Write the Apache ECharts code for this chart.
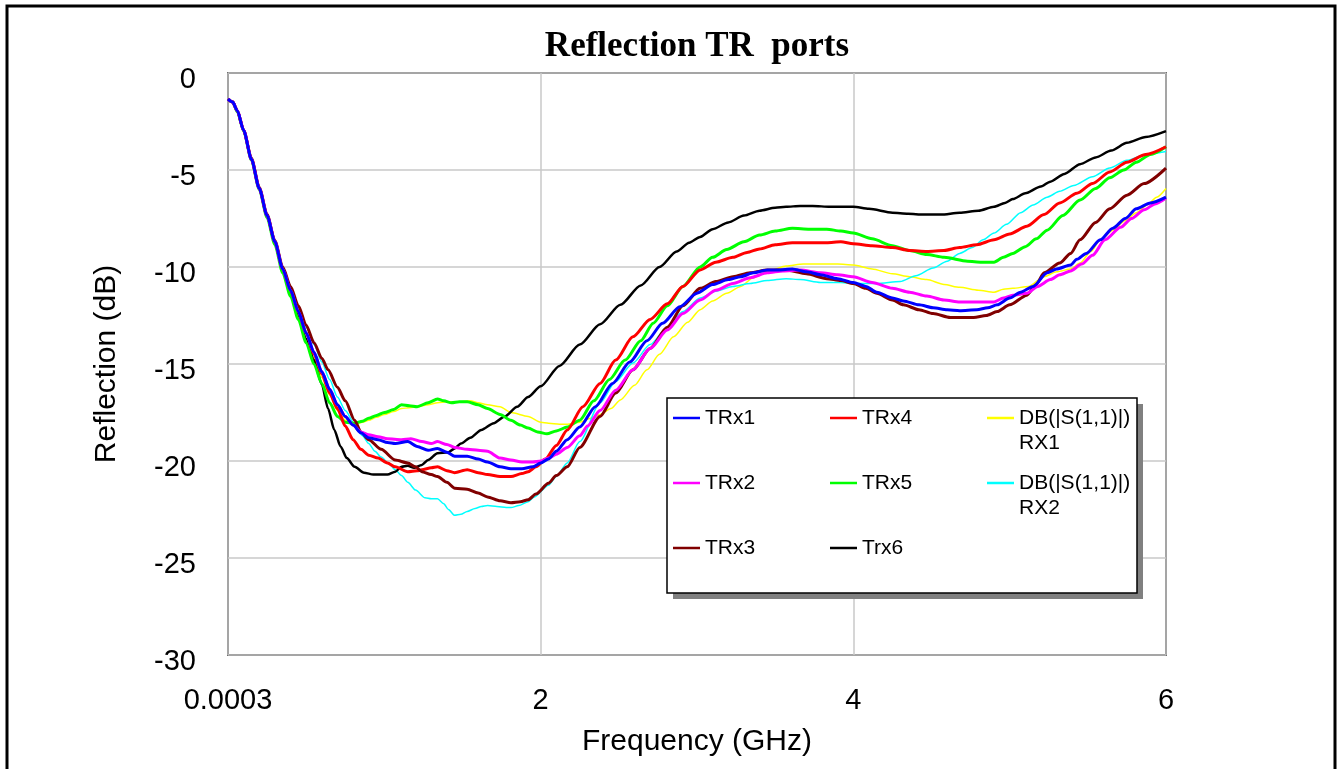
<!DOCTYPE html>
<html>
<head>
<meta charset="utf-8">
<title>Reflection TR ports</title>
<script src="https://cdn.jsdelivr.net/npm/echarts@6/dist/echarts.min.js"></script>
<style>
  html, body { margin: 0; padding: 0; background: #fff; }
  #chart { width: 1339px; height: 769px; }
</style>
</head>
<body>
<div id="chart"></div>
<script>
// frequency (GHz) / reflection (dB) pairs
var trx1 = [[0,-1.35],[0.03,-1.5],[0.06,-1.95],[0.1,-2.95],[0.15,-4.45],[0.2,-5.95],[0.25,-7.35],[0.3,-8.7],[0.35,-10.1],
  [0.4,-11.2],[0.45,-12.3],[0.5,-13.4],[0.55,-14.4],[0.6,-15.4],[0.65,-16.3],[0.7,-17.1],[0.75,-17.7],[0.8,-18.15],[0.85,-18.55],
  [0.9,-18.8],[0.96,-18.9],[1.02,-19.05],[1.07,-19.1],[1.15,-19.0],[1.21,-19.25],[1.28,-19.45],[1.34,-19.35],[1.4,-19.55],
  [1.45,-19.75],[1.53,-19.75],[1.6,-19.9],[1.66,-20.05],[1.74,-20.3],[1.81,-20.4],[1.88,-20.4],[1.95,-20.3],[2.0,-20.1],
  [2.05,-19.9],[2.1,-19.5],[2.17,-18.9],[2.25,-18.25],[2.35,-17.2],[2.46,-16.0],[2.57,-14.9],[2.68,-13.8],[2.78,-12.9],
  [2.89,-12.05],[3.0,-11.35],[3.1,-10.9],[3.2,-10.65],[3.28,-10.5],[3.36,-10.3],[3.45,-10.15],[3.52,-10.15],[3.61,-10.1],
  [3.7,-10.25],[3.79,-10.4],[3.9,-10.6],[4.0,-10.8],[4.08,-11.0],[4.15,-11.3],[4.25,-11.6],[4.32,-11.75],[4.42,-11.95],
  [4.51,-12.1],[4.6,-12.2],[4.68,-12.25],[4.79,-12.2],[4.86,-12.1],[4.92,-11.95],[5.0,-11.6],[5.07,-11.3],[5.15,-11.0],
  [5.24,-10.3],[5.3,-10.1],[5.39,-9.9],[5.43,-9.6],[5.49,-9.3],[5.58,-8.6],[5.66,-8.0],[5.74,-7.5],[5.81,-7.0],[5.9,-6.7],[6.0,-6.4]];

var trx2 = [[0,-1.35],[0.03,-1.5],[0.06,-1.95],[0.1,-2.95],[0.15,-4.45],[0.2,-5.95],[0.25,-7.35],[0.3,-8.7],[0.35,-10.1],
  [0.4,-11.2],[0.45,-12.3],[0.5,-13.4],[0.55,-14.4],[0.6,-15.4],[0.65,-16.3],[0.7,-17.1],[0.75,-17.7],[0.8,-18.15],[0.85,-18.5],
  [0.9,-18.65],[0.96,-18.75],[1.02,-18.85],[1.11,-18.9],[1.17,-18.85],[1.24,-19.0],[1.3,-19.1],[1.34,-19.0],[1.4,-19.15],
  [1.45,-19.3],[1.53,-19.4],[1.6,-19.45],[1.66,-19.5],[1.74,-19.85],[1.81,-19.95],[1.88,-20.05],[1.95,-20.05],[2.0,-20.0],
  [2.05,-19.85],[2.1,-19.65],[2.17,-19.3],[2.25,-18.7],[2.3,-18.2],[2.38,-17.4],[2.48,-16.35],[2.59,-15.3],[2.7,-14.2],
  [2.81,-13.25],[2.91,-12.4],[3.02,-11.7],[3.12,-11.2],[3.23,-10.85],[3.34,-10.55],[3.45,-10.3],[3.55,-10.2],[3.66,-10.15],
  [3.79,-10.3],[3.9,-10.4],[4.0,-10.5],[4.12,-10.8],[4.25,-11.1],[4.36,-11.3],[4.47,-11.5],[4.58,-11.7],[4.68,-11.8],
  [4.8,-11.8],[4.9,-11.8],[4.96,-11.6],[5.02,-11.45],[5.11,-11.35],[5.18,-11.0],[5.26,-10.65],[5.32,-10.4],[5.39,-10.2],
  [5.46,-9.85],[5.53,-9.4],[5.61,-8.6],[5.71,-7.95],[5.78,-7.5],[5.86,-7.05],[5.93,-6.75],[6.0,-6.45]];

var trx3 = [[0,-1.35],[0.03,-1.5],[0.06,-1.95],[0.1,-2.95],[0.15,-4.4],[0.2,-5.9],[0.25,-7.3],[0.3,-8.65],[0.35,-10.0],
  [0.4,-11.0],[0.45,-12.0],[0.5,-13.0],[0.55,-13.9],[0.6,-14.7],[0.64,-15.3],[0.7,-16.2],[0.75,-16.9],[0.81,-17.9],[0.85,-18.5],
  [0.9,-18.9],[0.98,-19.4],[1.07,-19.95],[1.15,-20.1],[1.2,-20.3],[1.24,-20.55],[1.3,-20.7],[1.34,-20.8],[1.4,-21.1],
  [1.45,-21.4],[1.53,-21.45],[1.6,-21.65],[1.66,-21.85],[1.74,-22.05],[1.81,-22.15],[1.87,-22.1],[1.92,-22.0],[1.97,-21.7],
  [2.05,-21.15],[2.1,-20.75],[2.17,-20.3],[2.25,-19.3],[2.38,-17.7],[2.48,-16.5],[2.59,-15.3],[2.7,-14.2],[2.81,-13.1],
  [2.91,-12.0],[3.02,-11.1],[3.12,-10.75],[3.23,-10.5],[3.34,-10.3],[3.45,-10.15],[3.57,-10.15],[3.7,-10.35],[3.83,-10.6],
  [3.92,-10.7],[4.0,-10.85],[4.08,-11.1],[4.15,-11.35],[4.25,-11.7],[4.32,-11.95],[4.42,-12.2],[4.51,-12.4],[4.62,-12.6],
  [4.77,-12.6],[4.85,-12.5],[4.92,-12.3],[5.0,-11.95],[5.11,-11.45],[5.17,-10.9],[5.22,-10.3],[5.32,-9.8],[5.39,-9.3],
  [5.45,-8.6],[5.55,-7.7],[5.64,-7.0],[5.75,-6.3],[5.86,-5.7],[6.0,-4.9]];

var trx4 = [[0,-1.35],[0.03,-1.5],[0.06,-1.95],[0.1,-2.95],[0.15,-4.45],[0.2,-5.95],[0.25,-7.35],[0.3,-8.7],[0.35,-10.1],
  [0.4,-11.2],[0.45,-12.3],[0.5,-13.4],[0.55,-14.5],[0.6,-15.5],[0.65,-16.5],[0.7,-17.3],[0.75,-18.2],[0.8,-18.9],[0.85,-19.4],
  [0.9,-19.7],[0.96,-19.85],[1.02,-20.1],[1.07,-20.3],[1.15,-20.55],[1.21,-20.5],[1.24,-20.45],[1.3,-20.35],[1.34,-20.3],
  [1.4,-20.5],[1.45,-20.6],[1.53,-20.45],[1.6,-20.6],[1.66,-20.7],[1.74,-20.8],[1.81,-20.8],[1.88,-20.65],[1.92,-20.55],
  [1.97,-20.3],[2.03,-19.9],[2.1,-19.2],[2.17,-18.4],[2.27,-17.2],[2.38,-16.0],[2.48,-14.8],[2.59,-13.6],[2.7,-12.7],
  [2.81,-11.9],[2.91,-11.0],[3.02,-10.15],[3.12,-9.75],[3.23,-9.5],[3.32,-9.25],[3.4,-9.07],[3.5,-8.85],[3.61,-8.75],
  [3.72,-8.75],[3.83,-8.75],[3.92,-8.7],[4.0,-8.8],[4.12,-8.9],[4.25,-9.0],[4.36,-9.15],[4.47,-9.2],[4.58,-9.15],
  [4.68,-9.0],[4.79,-8.85],[4.9,-8.6],[5.0,-8.3],[5.11,-7.9],[5.22,-7.3],[5.32,-6.7],[5.43,-6.2],[5.53,-5.7],[5.64,-5.1],
  [5.75,-4.6],[5.87,-4.2],[6.0,-3.8]];

var trx5 = [[0,-1.35],[0.03,-1.5],[0.06,-2.0],[0.1,-3.0],[0.15,-4.5],[0.2,-6.0],[0.25,-7.45],[0.3,-8.85],[0.35,-10.3],
  [0.4,-11.5],[0.45,-12.7],[0.5,-13.9],[0.55,-15.0],[0.6,-16.0],[0.65,-17.0],[0.7,-17.7],[0.75,-18.0],[0.81,-18.05],
  [0.86,-17.95],[0.9,-17.8],[0.95,-17.65],[1.0,-17.5],[1.06,-17.35],[1.11,-17.1],[1.16,-17.15],[1.21,-17.2],[1.28,-17.0],
  [1.34,-16.8],[1.38,-16.9],[1.43,-17.0],[1.48,-16.95],[1.53,-16.95],[1.6,-17.1],[1.66,-17.3],[1.74,-17.6],[1.81,-17.9],
  [1.87,-18.15],[1.92,-18.3],[1.98,-18.5],[2.04,-18.6],[2.1,-18.45],[2.17,-18.25],[2.25,-17.9],[2.34,-16.9],[2.44,-15.8],
  [2.54,-14.8],[2.64,-13.8],[2.72,-12.9],[2.81,-12.0],[2.91,-11.0],[3.02,-10.0],[3.1,-9.5],[3.19,-9.1],[3.3,-8.7],
  [3.4,-8.35],[3.5,-8.15],[3.61,-8.0],[3.72,-8.05],[3.83,-8.05],[3.92,-8.15],[4.0,-8.25],[4.12,-8.55],[4.25,-8.9],
  [4.36,-9.15],[4.47,-9.35],[4.58,-9.5],[4.73,-9.7],[4.82,-9.75],[4.9,-9.75],[4.96,-9.5],[5.02,-9.3],[5.1,-8.95],
  [5.17,-8.55],[5.24,-8.1],[5.34,-7.35],[5.45,-6.55],[5.55,-5.95],[5.64,-5.4],[5.73,-5.0],[5.81,-4.6],[5.9,-4.2],[6.0,-3.8]];

var trx6 = [[0,-1.35],[0.03,-1.5],[0.06,-1.95],[0.1,-2.95],[0.15,-4.45],[0.2,-5.95],[0.25,-7.4],[0.3,-8.8],[0.35,-10.15],
  [0.4,-11.3],[0.45,-12.5],[0.5,-13.7],[0.55,-14.8],[0.6,-16.05],[0.64,-17.3],[0.68,-18.4],[0.72,-19.25],[0.76,-19.85],
  [0.81,-20.3],[0.87,-20.6],[0.93,-20.7],[1.02,-20.7],[1.07,-20.55],[1.11,-20.3],[1.15,-20.25],[1.19,-20.35],[1.24,-20.2],
  [1.28,-19.95],[1.34,-19.6],[1.41,-19.55],[1.45,-19.35],[1.49,-19.1],[1.55,-18.8],[1.62,-18.4],[1.7,-18.05],[1.77,-17.7],
  [1.85,-17.2],[1.92,-16.7],[2.0,-16.15],[2.12,-15.1],[2.25,-14.0],[2.38,-12.95],[2.51,-11.95],[2.64,-10.95],[2.76,-10.0],
  [2.87,-9.2],[2.95,-8.75],[3.02,-8.45],[3.1,-8.05],[3.2,-7.7],[3.3,-7.35],[3.4,-7.1],[3.5,-6.95],[3.57,-6.9],[3.66,-6.85],
  [3.74,-6.85],[3.85,-6.9],[4.0,-6.9],[4.1,-7.0],[4.25,-7.2],[4.35,-7.25],[4.45,-7.3],[4.56,-7.3],[4.68,-7.2],[4.8,-7.1],
  [4.9,-6.9],[4.97,-6.7],[5.02,-6.5],[5.1,-6.2],[5.2,-5.85],[5.26,-5.6],[5.35,-5.2],[5.45,-4.7],[5.55,-4.35],[5.65,-4.0],
  [5.75,-3.6],[5.87,-3.3],[6.0,-3.0]];

var rx1 = [[0,-1.35],[0.03,-1.5],[0.06,-1.95],[0.1,-2.95],[0.15,-4.45],[0.2,-5.95],[0.25,-7.4],[0.3,-8.8],[0.35,-10.2],
  [0.4,-11.4],[0.45,-12.6],[0.5,-13.7],[0.55,-14.7],[0.6,-15.7],[0.65,-16.6],[0.7,-17.4],[0.75,-17.9],[0.81,-18.1],
  [0.86,-18.0],[0.9,-17.9],[0.95,-17.75],[1.0,-17.6],[1.06,-17.45],[1.11,-17.3],[1.16,-17.25],[1.21,-17.2],[1.28,-17.1],
  [1.34,-17.0],[1.4,-16.95],[1.49,-16.95],[1.55,-16.9],[1.6,-17.0],[1.66,-17.1],[1.74,-17.2],[1.81,-17.5],[1.92,-17.7],
  [2.0,-18.0],[2.05,-18.05],[2.12,-18.1],[2.17,-18.1],[2.25,-18.0],[2.32,-17.8],[2.38,-17.6],[2.45,-17.3],[2.51,-16.85],
  [2.6,-16.1],[2.68,-15.3],[2.76,-14.5],[2.85,-13.6],[2.94,-12.85],[3.02,-12.2],[3.1,-11.75],[3.19,-11.35],[3.28,-11.0],
  [3.36,-10.55],[3.46,-10.2],[3.57,-9.95],[3.68,-9.85],[3.79,-9.85],[3.9,-9.85],[4.0,-9.9],[4.12,-10.1],[4.25,-10.35],
  [4.36,-10.5],[4.47,-10.65],[4.58,-10.9],[4.68,-11.05],[4.8,-11.2],[4.9,-11.3],[4.96,-11.15],[5.02,-11.1],[5.12,-11.0],
  [5.22,-10.5],[5.3,-10.25],[5.39,-10.1],[5.45,-9.8],[5.52,-9.2],[5.58,-8.6],[5.66,-8.1],[5.74,-7.6],[5.81,-7.2],
  [5.88,-6.8],[5.94,-6.4],[6.0,-5.95]];

var rx2 = [[0,-1.35],[0.03,-1.5],[0.06,-1.95],[0.1,-2.95],[0.15,-4.45],[0.2,-5.95],[0.25,-7.35],[0.3,-8.7],[0.35,-10.1],
  [0.4,-11.1],[0.45,-12.1],[0.5,-13.1],[0.55,-14.0],[0.6,-14.9],[0.65,-15.8],[0.7,-16.7],[0.75,-17.4],[0.81,-18.1],
  [0.86,-18.7],[0.9,-19.1],[0.94,-19.5],[0.98,-19.8],[1.03,-20.15],[1.07,-20.45],[1.11,-20.75],[1.15,-21.1],[1.2,-21.5],
  [1.26,-21.9],[1.3,-21.95],[1.34,-21.95],[1.38,-22.2],[1.41,-22.5],[1.45,-22.8],[1.49,-22.75],[1.53,-22.6],[1.58,-22.45],
  [1.62,-22.35],[1.66,-22.3],[1.72,-22.35],[1.78,-22.4],[1.81,-22.4],[1.86,-22.3],[1.92,-22.1],[1.96,-21.85],[2.05,-21.25],
  [2.1,-20.8],[2.17,-20.1],[2.25,-19.0],[2.38,-17.0],[2.48,-15.9],[2.59,-14.95],[2.7,-14.0],[2.81,-13.1],[2.91,-12.3],
  [3.02,-11.6],[3.12,-11.25],[3.23,-11.0],[3.34,-10.85],[3.45,-10.7],[3.57,-10.6],[3.66,-10.65],[3.79,-10.8],[3.92,-10.8],
  [4.0,-10.85],[4.15,-10.85],[4.3,-10.75],[4.4,-10.45],[4.51,-10.05],[4.6,-9.7],[4.68,-9.3],[4.76,-9.0],[4.83,-8.6],
  [4.9,-8.25],[4.98,-7.8],[5.07,-7.2],[5.15,-6.8],[5.24,-6.4],[5.32,-6.1],[5.41,-5.8],[5.53,-5.35],[5.64,-4.9],[5.75,-4.5],
  [5.87,-4.2],[6.0,-4.05]];

var xTickLabels = ['0.0003', '2', '4', '6'];
var legendRows = [
  ['TRx1', 'TRx4', 'DB(|S(1,1)|) RX1'],
  ['TRx2', 'TRx5', 'DB(|S(1,1)|) RX2'],
  ['TRx3', 'Trx6']
];

var font = "'Liberation Sans', Arial, sans-serif";

function line(name, data, color, width) {
  return {
    name: name,
    type: 'line',
    data: data,
    symbol: 'none',
    smooth: 0.25,
    smoothMonotone: 'x',
    lineStyle: { color: color, width: width },
    itemStyle: { color: color }
  };
}

var chart = echarts.init(document.getElementById('chart'));

// one legend per row so the three columns line up like the original box
var legends = legendRows.map(function (row, i) {
  return {
    data: row,
    orient: 'horizontal',
    left: 673,
    top: [380.5, 445.5, 535.5][i],
    padding: 0,
    itemGap: 10,
    itemWidth: 27,
    itemHeight: 2.5,
    icon: 'rect',
    selectedMode: false,
    z: 10,
    formatter: function (name) {
      return name.indexOf('DB') === 0 ? '\n' + name.replace(' ', '\n') : name;
    },
    textStyle: { fontFamily: font, fontSize: 21, color: '#000', width: 115, lineHeight: 25 }
  };
});

chart.setOption({
  animation: false,
  backgroundColor: '#fff',
  title: {
    text: 'Reflection TR  ports',
    left: 692,
    textAlign: 'center',
    top: 24,
    textStyle: { fontFamily: "'Liberation Serif', 'Times New Roman', serif", fontWeight: 'bold', fontSize: 35, color: '#000' }
  },
  graphic: [
    { type: 'rect', z: 100, silent: true, shape: { x: 7, y: 6, width: 1328, height: 900 },
      style: { fill: null, stroke: '#000', lineWidth: 3 } },
    { type: 'rect', z: 5, silent: true, shape: { x: 673, y: 404, width: 470, height: 195 },
      style: { fill: '#808080' } },
    { type: 'rect', z: 6, silent: true, shape: { x: 667, y: 398, width: 470, height: 195 },
      style: { fill: '#fff', stroke: '#000', lineWidth: 1.5 } }
  ],
  legend: legends,
  grid: {
    left: 228, right: 173, top: 73, bottom: 114,
    show: true, borderColor: '#000', borderWidth: 1.5, backgroundColor: '#fff'
  },
  xAxis: {
    type: 'value',
    min: 0, max: 6, interval: 2,
    name: 'Frequency (GHz)',
    nameLocation: 'middle',
    nameGap: 72,
    nameTextStyle: { fontFamily: font, fontSize: 30, color: '#000' },
    axisLine: { show: false },
    axisTick: { show: false },
    axisLabel: {
      margin: 31, fontFamily: font, fontSize: 29, color: '#000',
      formatter: function (v) { return xTickLabels[Math.round(v / 2)]; }
    },
    splitLine: { lineStyle: { color: '#c8c8c8', width: 1.5 } }
  },
  yAxis: {
    type: 'value',
    min: -30, max: 0, interval: 5,
    name: 'Reflection (dB)',
    nameLocation: 'middle',
    nameGap: 106,
    nameTextStyle: { fontFamily: font, fontSize: 30, color: '#000' },
    axisLine: { show: false },
    axisTick: { show: false },
    axisLabel: { margin: 32, verticalAlign: 'top', lineHeight: 14, fontFamily: font, fontSize: 29, color: '#000' },
    splitLine: { lineStyle: { color: '#c8c8c8', width: 1.5 } }
  },
  series: [
    line('DB(|S(1,1)|) RX1', rx1, '#ffff00', 1.5),
    line('DB(|S(1,1)|) RX2', rx2, '#00ffff', 1.5),
    line('Trx6', trx6, '#000000', 2.5),
    line('TRx5', trx5, '#00ff00', 3),
    line('TRx4', trx4, '#ff0000', 3),
    line('TRx3', trx3, '#800000', 3),
    line('TRx2', trx2, '#ff00ff', 3),
    line('TRx1', trx1, '#0000ff', 3)
  ]
});
</script>
</body>
</html>
